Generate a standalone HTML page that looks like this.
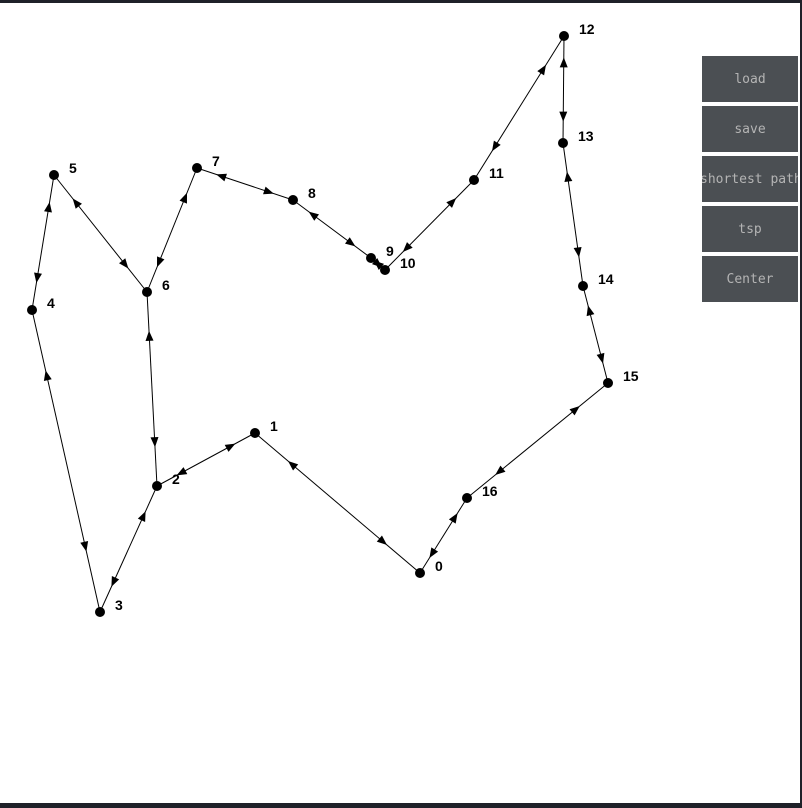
<!DOCTYPE html>
<html><head><meta charset="utf-8"><style>
html,body{margin:0;padding:0;background:#1f2129;}
#wrap{position:absolute;left:0;top:3px;width:800px;height:800px;background:#fff;}
.btn{position:absolute;left:702px;width:96px;height:46px;background:#4b4f53;color:#b4b4b4;font-family:"DejaVu Sans Mono","Liberation Mono",monospace;font-size:13px;line-height:48px;text-align:center;overflow:hidden;white-space:nowrap;border:none;}
</style></head><body>
<div id="wrap">
<svg id="g" width="800" height="800"></svg>
</div>
<div class="btn" style="top:56px">load</div>
<div class="btn" style="top:106px">save</div>
<div class="btn" style="top:156px;text-indent:-2px">shortest path</div>
<div class="btn" style="top:206px">tsp</div>
<div class="btn" style="top:256px">Center</div>
<script>
const nodeIds=[0,1,2,3,4,5,6,7,8,9,10,11,12,13,14,15,16];
const nodeX=[420,255,157,100,32,54,147,197,293,371,385,474,564,563,583,608,467];
const nodeY=[573,433,486,612,310,175,292,168,200,258,270,180,36,143,286,383,498];
const edgeFrom=[0,1,2,3,4,5,6,6,7,8,9,10,11,12,13,14,15,16];
const edgeTo=[1,2,3,4,5,6,2,7,8,9,10,11,12,13,14,15,16,0];
const svg=document.getElementById('g');
const NS='http://www.w3.org/2000/svg';
const OY=-3;
function px(i){return nodeX[i];}
function py(i){return nodeY[i]+OY;}
function arrow(x1,y1,x2,y2){
  const dx=x2-x1,dy=y2-y1,L=Math.hypot(dx,dy)||1,ux=dx/L,uy=dy/L;
  const tx=x1+dx*0.8,ty=y1+dy*0.8;
  const bx=tx-ux*10,by=ty-uy*10;
  const p=document.createElementNS(NS,'polygon');
  p.setAttribute('points',`${tx},${ty} ${bx-uy*4},${by+ux*4} ${bx+uy*4},${by-ux*4}`);
  p.setAttribute('fill','#000');
  
  
  svg.appendChild(p);
}
for(let k=0;k<edgeFrom.length;k++){
  const a=edgeFrom[k],b=edgeTo[k];
  const l=document.createElementNS(NS,'line');
  l.setAttribute('x1',px(a));l.setAttribute('y1',py(a));l.setAttribute('x2',px(b));l.setAttribute('y2',py(b));
  l.setAttribute('stroke','#000');l.setAttribute('stroke-width','1');
  
  
  svg.appendChild(l);
  arrow(px(a),py(a),px(b),py(b));
  arrow(px(b),py(b),px(a),py(a));
}
for(let i=0;i<nodeIds.length;i++){
  const c=document.createElementNS(NS,'circle');
  c.setAttribute('cx',px(i));c.setAttribute('cy',py(i));c.setAttribute('r','5');c.setAttribute('fill','#000');
  
  
  svg.appendChild(c);
  const t=document.createElementNS(NS,'text');
  t.setAttribute('x',px(i)+15);t.setAttribute('y',py(i)-2);
  t.setAttribute('font-family','Liberation Sans, sans-serif');t.setAttribute('font-size','14');t.setAttribute('font-weight','bold');
  t.textContent=nodeIds[i];
  
  
  svg.appendChild(t);
}
</script>
</body></html>
